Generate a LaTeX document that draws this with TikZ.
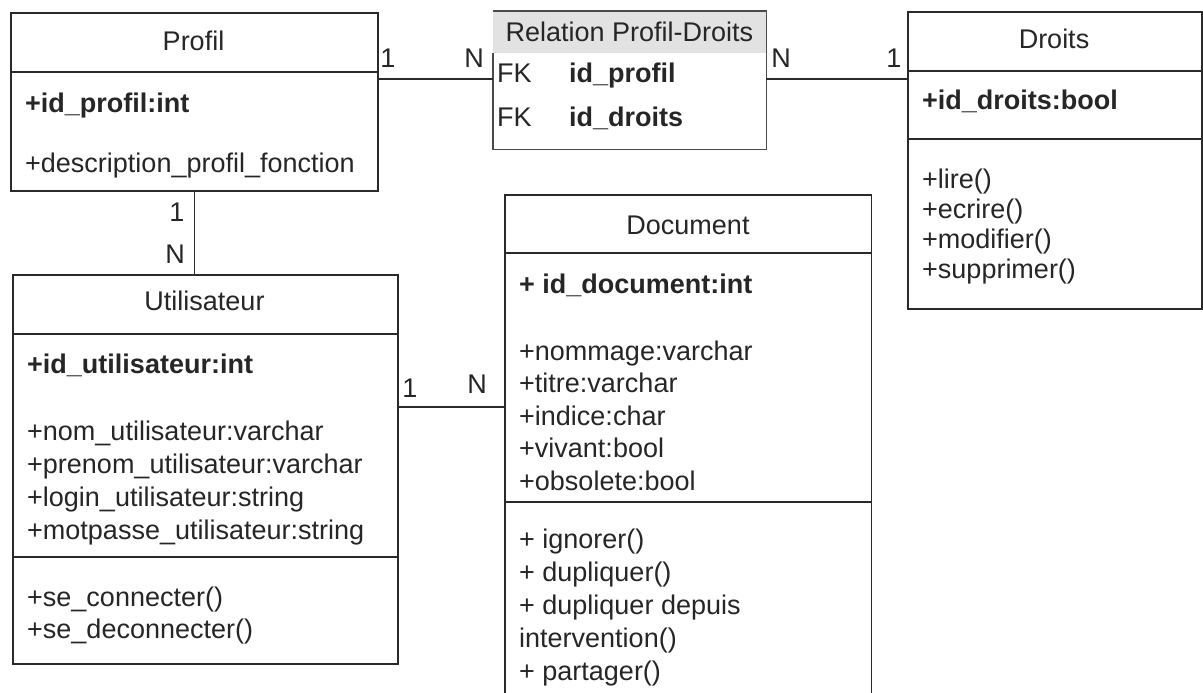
\documentclass[tikz,border=0pt]{standalone}
\usepackage{fontspec}
\setmainfont{Liberation Sans}
\usetikzlibrary{calc}
\definecolor{ink}{HTML}{262626}
\definecolor{edge}{HTML}{2A2A2A}
\definecolor{headgray}{HTML}{E2E2E2}

\begin{document}
\begin{tikzpicture}[x=1pt,y=-1pt,
  box/.style={draw=edge, line width=1.8pt, fill=white, rectangle, inner sep=0pt, anchor=north west},
  frame/.style={draw=none, rectangle, inner sep=0pt, anchor=north west},
  txt/.style={inner sep=0pt, anchor=base west, text=ink, font=\fontsize{27}{32}\selectfont},
  bold/.style={txt, font=\fontsize{27}{32}\selectfont\bfseries},
  ttl/.style={txt, anchor=base},
  lbl/.style={txt, anchor=base},
  sep/.style={draw=edge, line width=1.8pt},
  link/.style={draw=edge, line width=1.6pt}]

\useasboundingbox[fill=white] (0,0) rectangle (1203,693);

% ---------- Profil ----------
\node[box, minimum width=367pt, minimum height=178pt] (profil) at (10,12) {};
\draw[sep] (10,72) -- (377,72);
\node[ttl] (profilT) at (193.5,51) {Profil};
\node[bold] (profilA1) at (25,113) {+id\_profil:int};
\node[txt] (profilA2) at (25,172) {+description\_profil\_fonction};

% ---------- Relation Profil-Droits ----------
\node[frame, minimum width=273pt, minimum height=138pt] (relation) at (493,11) {};
\fill[headgray] (relation.north west) rectangle (766,53);
\draw[sep, draw=edge!85] (493,53) -- (relation.south west) -- (relation.south east)
  -- (relation.north east) -- (relation.north west);
\node[ttl] (relationT) at (629.5,42) {Relation Profil-Droits};
\node[txt] (relFK1) at (497,83) {FK};
\node[bold] (relA1) at (569,83) {id\_profil};
\node[txt] (relFK2) at (497,126) {FK};
\node[bold] (relA2) at (569,126) {id\_droits};

% ---------- Droits ----------
\node[box, minimum width=294pt, minimum height=297pt] (droits) at (907,11) {};
\draw[sep] (907,71) -- (1201,71);
\draw[sep] (907,139) -- (1201,139);
\node[ttl] (droitsT) at (1054,49) {Droits};
\node[bold] (droitsA1) at (922,110) {+id\_droits:bool};
\node[txt] (droitsM1) at (922,188) {+lire()};
\node[txt] (droitsM2) at (922,218) {+ecrire()};
\node[txt] (droitsM3) at (922,248) {+modifier()};
\node[txt] (droitsM4) at (922,278) {+supprimer()};

% ---------- Utilisateur ----------
\node[box, minimum width=385pt, minimum height=389pt] (utilisateur) at (12,274) {};
\draw[sep] (12,334) -- (397,334);
\draw[sep] (12,557) -- (397,557);
\node[ttl] (utilT) at (204.5,310) {Utilisateur};
\node[bold] (utilA0) at (27,373) {+id\_utilisateur:int};
\node[txt] (utilA1) at (27,440) {+nom\_utilisateur:varchar};
\node[txt] (utilA2) at (27,473) {+prenom\_utilisateur:varchar};
\node[txt] (utilA3) at (27,506) {+login\_utilisateur:string};
\node[txt] (utilA4) at (27,539) {+motpasse\_utilisateur:string};
\node[txt] (utilM1) at (27,606) {+se\_connecter()};
\node[txt] (utilM2) at (27,638) {+se\_deconnecter()};

% ---------- Document (runs past the lower edge) ----------
\node[frame, minimum width=366pt, minimum height=498pt] (document) at (505,195) {};
\fill[white] (document.north west) rectangle (document.south east);
\draw[sep] (document.south west) -- (document.north west) -- (document.north east) -- (document.south east);
\draw[sep] (505,253) -- (871,253);
\draw[sep] (505,502) -- (871,502);
\node[ttl] (docT) at (688,234) {Document};
\node[bold] (docA0) at (519,293) {+ id\_document:int};
\node[txt] (docA1) at (519,360) {+nommage:varchar};
\node[txt] (docA2) at (519,392.5) {+titre:varchar};
\node[txt] (docA3) at (519,425) {+indice:char};
\node[txt] (docA4) at (519,457.5) {+vivant:bool};
\node[txt] (docA5) at (519,490) {+obsolete:bool};
\node[txt] (docM1) at (519,548) {+ ignorer()};
\node[txt] (docM2) at (519,581) {+ dupliquer()};
\node[txt] (docM3) at (519,614) {+ dupliquer depuis};
\node[txt] (docM4) at (519,647) {intervention()};
\node[txt] (docM5) at (519,680) {+ partager()};

% ---------- Associations ----------
\coordinate (rowPR) at (0,79);
\coordinate (rowUD) at (0,407);
\draw[link] (profil.east |- rowPR) -- (relation.west |- rowPR);
\draw[link] (relation.east |- rowPR) -- (droits.west |- rowPR);
\draw[link] (profil.south) -- (profil.south |- utilisateur.north);
\draw[link] (utilisateur.east |- rowUD) -- (document.west |- rowUD);

% ---------- Multiplicities ----------
\node[lbl] (mPR1) at (388,67) {1};
\node[lbl] (mPRN) at (474,67) {N};
\node[lbl] (mRDN) at (781,67) {N};
\node[lbl] (mRD1) at (894,67) {1};
\node[lbl] (mPU1) at (177,221) {1};
\node[lbl] (mPUN) at (175,263) {N};
\node[lbl] (mUD1) at (410,397) {1};
\node[lbl] (mUDN) at (477,393) {N};
\end{tikzpicture}
\end{document}
